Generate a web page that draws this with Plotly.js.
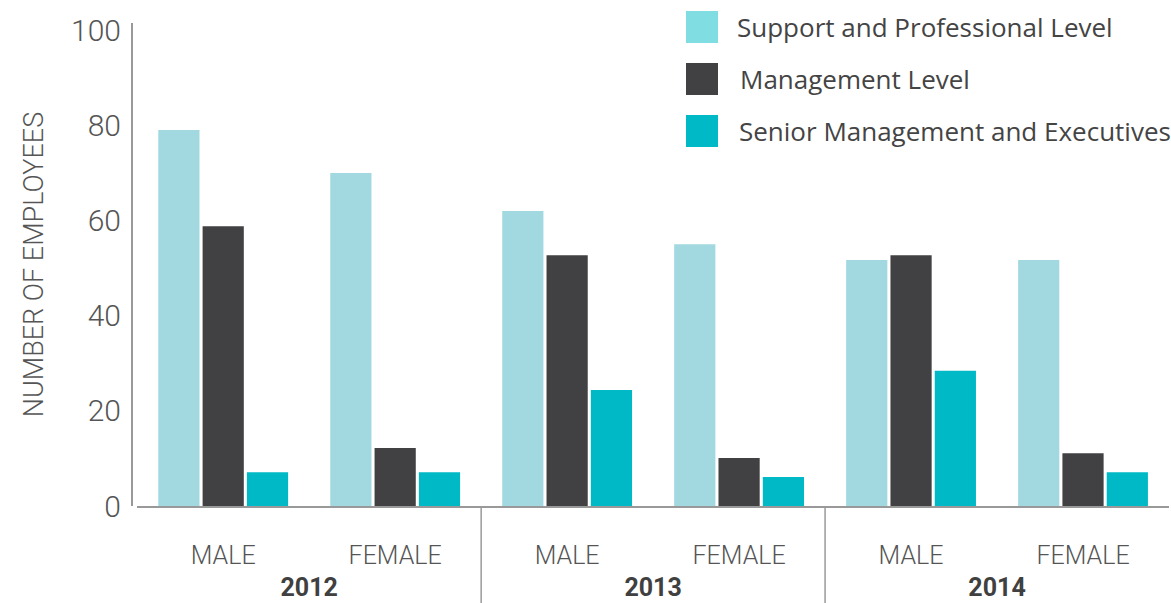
<!DOCTYPE html>
<html>
<head>
<meta charset="utf-8">
<script src="https://cdn.plot.ly/plotly-3.0.1.min.js"></script>
<style>html,body{margin:0;padding:0;background:#fff;}#chart{width:1171px;height:603px;}</style>
</head>
<body>
<div id="chart"></div>
<script>
// ---- data ----
var years = ['2012', '2012', '2013', '2013', '2014', '2014'];
var genders = ['MALE', 'FEMALE', 'MALE', 'FEMALE', 'MALE', 'FEMALE'];
var seriesNames = ['Support and Professional Level', 'Management Level', 'Senior Management and Executives'];
var supportValues = [79, 70, 62, 55, 51.7, 51.7];
var managementValues = [58.8, 12.2, 52.7, 10.1, 52.7, 11.1];
var seniorValues = [7.1, 7.1, 24.4, 6.1, 28.4, 7.1];
var yTicks = [0, 20, 40, 60, 80, 100];

// ---- style ----
var barColors = ['#A2D9E0', '#414143', '#00B9C6'];
var legendColors = ['#80DEE2', '#414143', '#00B9C6'];
var FONT = 'Roboto, "DejaVu Sans", sans-serif';
var LEGEND_FONT = '"Open Sans", Roboto, sans-serif';

var W = 1171, H = 603;
var M = {l: 131, r: 2, t: 23, b: 97};
var plotW = W - M.l - M.r, plotH = H - M.t - M.b;
var XDOM = [0.006, 1];
function px(x) { return (x - M.l) / plotW; }
function py(y) { return (H - M.b - y) / plotH; }

var yearLabels = years.map(function (y) {
  return '<br><b><span style="font-size:25px;color:#404040">' + y + '</span></b>';
});
var genderLabels = genders.map(function (g) {
  return '<span style="font-size:25px">' + g + '</span>';
});
var xCats = [yearLabels, genderLabels];

var allValues = [supportValues, managementValues, seniorValues];
var traces = allValues.map(function (vals, i) {
  return {
    type: 'bar',
    x: xCats,
    y: vals,
    name: seriesNames[i],
    marker: {color: barColors[i], line: {width: 0}},
    showlegend: false,
    hoverinfo: 'y+name'
  };
});

var shapes = [], annotations = [];
// group dividers between years (not at the outer edges)
for (var i = 1; i < years.length; i++) {
  if (years[i] !== years[i - 1]) {
    var fx = XDOM[0] + (i / years.length) * (XDOM[1] - XDOM[0]);
    shapes.push({
      type: 'line', xref: 'paper', yref: 'paper',
      x0: fx, x1: fx, y0: 0, y1: -M.b / plotH,
      line: {color: '#999', width: 1.5}
    });
  }
}

// custom legend (big square keys)
var legendRows = [27, 79, 131];
var legendTextX = [735, 738, 737];
seriesNames.forEach(function (n, i) {
  shapes.push({
    type: 'rect', xref: 'paper', yref: 'paper',
    x0: px(686), x1: px(718), y0: py(legendRows[i] - 16), y1: py(legendRows[i] + 16),
    fillcolor: legendColors[i], line: {width: 0}
  });
  annotations.push({
    xref: 'paper', yref: 'paper', x: px(legendTextX[i]), y: py(legendRows[i]),
    xanchor: 'left', yanchor: 'middle', showarrow: false, text: n,
    font: {family: LEGEND_FONT, size: 26, color: '#444'}
  });
});

var layout = {
  width: W, height: H,
  margin: M,
  paper_bgcolor: '#fff', plot_bgcolor: '#fff',
  barmode: 'group',
  bargap: 0.227,
  bargroupgap: 0.07,
  showlegend: false,
  xaxis: {
    type: 'multicategory',
    domain: XDOM,
    showline: true, linecolor: '#999', linewidth: 1.5,
    showdividers: false,
    ticks: '',
    ticklabelstandoff: 29,
    tickfont: {family: FONT, size: 23, color: '#555', weight: 300},
    showgrid: false, zeroline: false
  },
  yaxis: {
    range: [0, 101.5],
    anchor: 'free', position: 0,
    showline: true, linecolor: '#999', linewidth: 1.5,
    ticks: '',
    tickvals: yTicks,
    ticktext: yTicks.map(String),
    ticklabelstandoff: 4,
    tickfont: {family: FONT, size: 30, color: '#555', weight: 300},
    showgrid: false, zeroline: false,
    title: {text: 'NUMBER OF EMPLOYEES', standoff: 18, font: {family: FONT, size: 27, color: '#555', weight: 300}}
  },
  shapes: shapes,
  annotations: annotations
};

Plotly.newPlot('chart', traces, layout, {displayModeBar: false, staticPlot: true});
</script>
</body>
</html>
